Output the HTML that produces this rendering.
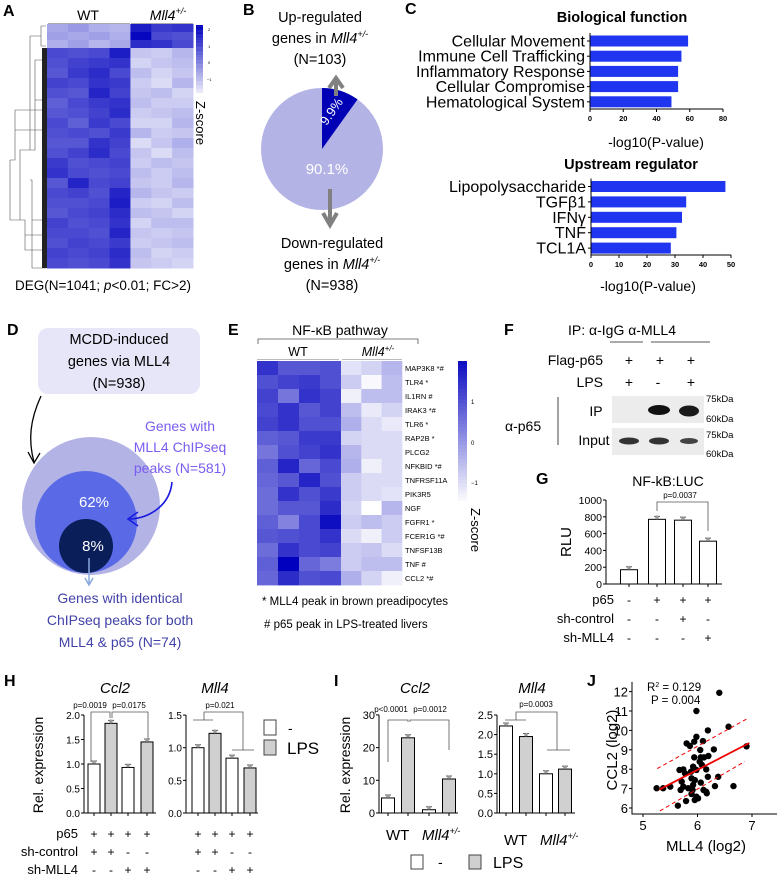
<!DOCTYPE html>
<html><head><meta charset="utf-8"><style>
html,body{margin:0;padding:0;background:#fff;}
svg{display:block;font-family:"Liberation Sans",sans-serif;}
</style></head><body>
<svg id="fig" width="777" height="874" viewBox="0 0 777 874" xmlns="http://www.w3.org/2000/svg">
<g font-weight="bold" font-size="16" fill="#000">
<text x="3" y="16">A</text>
<text x="243" y="15">B</text>
<text x="405" y="14">C</text>
<text x="7" y="335">D</text>
<text x="228" y="335">E</text>
<text x="504" y="335">F</text>
<text x="536" y="484">G</text>
<text x="4" y="686">H</text>
<text x="334" y="686">I</text>
<text x="587" y="686">J</text>
</g>
<g id="pA">
<text x="88" y="20" font-size="14" text-anchor="middle">WT</text>
<text x="168" y="20" font-size="14" text-anchor="middle" font-style="italic">Mll4<tspan font-size="9" dy="-6">+/-</tspan></text>
<line x1="48" y1="23.5" x2="130" y2="23.5" stroke="#aaa"/>
<line x1="131" y1="23.5" x2="193" y2="23.5" stroke="#aaa"/>
<text x="15" y="290" font-size="13.5">DEG(N=1041; <tspan font-style="italic">p</tspan>&lt;0.01; FC&gt;2)</text>
<text transform="translate(196,101) rotate(90)" font-size="13">Z-score</text>
<text x="208" y="31" font-size="4">2</text>
<text x="208" y="48" font-size="4">1</text>
<text x="208" y="64" font-size="4">0</text>
<text x="207" y="81" font-size="4">−1</text>
</g>
<g id="pB">
<text x="320" y="22" font-size="14.5" text-anchor="middle">Up-regulated</text>
<text x="320" y="43" font-size="14.5" text-anchor="middle">genes in <tspan font-style="italic">Mll4</tspan><tspan font-size="9" dy="-6" font-style="italic">+/-</tspan></text>
<text x="320" y="64" font-size="14.5" text-anchor="middle">(N=103)</text>
<text x="332" y="248" font-size="14.5" text-anchor="middle">Down-regulated</text>
<text x="332" y="269" font-size="14.5" text-anchor="middle">genes in <tspan font-style="italic">Mll4</tspan><tspan font-size="9" dy="-6" font-style="italic">+/-</tspan></text>
<text x="332" y="290" font-size="14.5" text-anchor="middle">(N=938)</text>
</g>
<g id="pC">
<text x="622" y="22" font-size="14.5" font-weight="bold" text-anchor="middle">Biological function</text>
<text x="656" y="147" font-size="14" text-anchor="middle">-log10(P-value)</text>
<text x="631" y="169" font-size="14.5" font-weight="bold" text-anchor="middle">Upstream regulator</text>
<text x="648" y="291" font-size="14" text-anchor="middle">-log10(P-value)</text>
</g>
<g id="pD">
<rect x="38" y="328" width="162" height="66" rx="10" fill="#e6e6f8"/>
<text x="119" y="344" font-size="14.5" text-anchor="middle">MCDD-induced</text>
<text x="119" y="366" font-size="14.5" text-anchor="middle">genes via MLL4</text>
<text x="119" y="388" font-size="14.5" text-anchor="middle">(N=938)</text>
<circle cx="91" cy="506" r="69" fill="#b3b3e6"/>
<circle cx="86" cy="522" r="51" fill="#5a6ae6"/>
<circle cx="86" cy="546" r="27" fill="#0a1e5a"/>
<text x="94" y="507" font-size="15" fill="#fff" text-anchor="middle">62%</text>
<text x="93" y="551" font-size="15" fill="#fff" text-anchor="middle">8%</text>
<path d="M41,396 C30,420 28,440 34,462" fill="none" stroke="#000" stroke-width="1.3"/>
<path d="M28,452 L34,463 L40,453" fill="none" stroke="#000" stroke-width="1.3"/>
<text x="180" y="431" font-size="14" fill="#7b5cf0" text-anchor="middle">Genes with</text>
<text x="180" y="452" font-size="14" fill="#7b5cf0" text-anchor="middle">MLL4 ChIPseq</text>
<text x="180" y="473" font-size="14" fill="#7b5cf0" text-anchor="middle">peaks (N=581)</text>
<path d="M172,482 C170,505 150,518 130,519" fill="none" stroke="#1818e0" stroke-width="1.6"/>
<path d="M138,512 L128,519 L138,526" fill="none" stroke="#1818e0" stroke-width="1.6"/>
<line x1="89" y1="558" x2="89" y2="584" stroke="#8aa8e0" stroke-width="1.5"/>
<path d="M85,578 L89,585 L93,578" fill="none" stroke="#8aa8e0" stroke-width="1.5"/>
<text x="120" y="603" font-size="14" fill="#4242a8" text-anchor="middle">Genes with identical</text>
<text x="120" y="625" font-size="14" fill="#4242a8" text-anchor="middle">ChIPseq peaks for both</text>
<text x="120" y="647" font-size="14" fill="#4242a8" text-anchor="middle">MLL4 &amp; p65 (N=74)</text>
</g>
<g id="pE">
<text x="340" y="335" font-size="14" text-anchor="middle">NF-κB pathway</text>
<path d="M258,344 V339 H418 V344" fill="none" stroke="#555" stroke-width="0.8"/>
<text x="298" y="356" font-size="12.5" text-anchor="middle">WT</text>
<text x="378" y="356" font-size="12.5" text-anchor="middle" font-style="italic">Mll4<tspan font-size="8" dy="-5">+/-</tspan></text>
<line x1="257" y1="359.5" x2="339" y2="359.5" stroke="#bbb"/>
<line x1="342" y1="359.5" x2="402" y2="359.5" stroke="#bbb"/>
<text transform="translate(471,508) rotate(90)" font-size="13">Z-score</text>
<text x="471" y="404" font-size="6">1</text>
<text x="471" y="445" font-size="6">0</text>
<text x="471" y="485" font-size="6">−1</text>
<text x="262" y="605" font-size="11.5">* MLL4 peak in brown preadipocytes</text>
<text x="264" y="628" font-size="11.5"># p65 peak in LPS-treated livers</text>
</g>
<g id="pF">
<text x="568" y="335" font-size="14">IP:  α-IgG  α-MLL4</text>
<line x1="610" y1="342" x2="643" y2="342" stroke="#555"/>
<line x1="651" y1="342" x2="710" y2="342" stroke="#555"/>
<text x="603" y="365" font-size="14" text-anchor="end">Flag-p65</text>
<text x="603" y="387" font-size="14" text-anchor="end">LPS</text>
<g font-size="14" text-anchor="middle">
<text x="629" y="365">+</text><text x="660" y="365">+</text><text x="691" y="365">+</text>
<text x="629" y="387">+</text><text x="658" y="387">-</text><text x="691" y="387">+</text>
</g>
<text x="505" y="431" font-size="14">α-p65</text>
<line x1="558" y1="397" x2="558" y2="445" stroke="#444"/>
<text x="596" y="416" font-size="14" text-anchor="middle">IP</text>
<text x="594" y="445" font-size="14" text-anchor="middle">Input</text>
<rect x="612" y="396" width="92" height="27" fill="#ececec"/>
<rect x="612" y="428" width="92" height="27" fill="#ececec"/>
<ellipse cx="659" cy="410" rx="11" ry="5" fill="#111"/>
<ellipse cx="689" cy="411" rx="10" ry="5.5" fill="#1a1a1a"/>
<ellipse cx="629" cy="441" rx="10" ry="3.5" fill="#333"/>
<ellipse cx="659" cy="441" rx="10" ry="3.5" fill="#333"/>
<ellipse cx="689" cy="441" rx="9" ry="3" fill="#444"/>
<g font-size="9.5">
<text x="706" y="402">75kDa</text><text x="706" y="422">60kDa</text><text x="706" y="438">75kDa</text><text x="706" y="457">60kDa</text>
</g>
</g>
<g id="pG">
<text x="668" y="486" font-size="14" text-anchor="middle">NF-kB:LUC</text>
<text transform="translate(571,542) rotate(-90)" font-size="15" text-anchor="middle">RLU</text>
<text x="680" y="498" font-size="8" text-anchor="middle">p=0.0037</text>
<path d="M657,511 V502 H708 V531" fill="none" stroke="#555" stroke-width="0.8"/>
</g>
<g id="pH">
<text x="115" y="693" font-size="15" font-style="italic" text-anchor="middle">Ccl2</text>
<text x="215" y="693" font-size="15" font-style="italic" text-anchor="middle">Mll4</text>
<text transform="translate(43,765) rotate(-90)" font-size="14" text-anchor="middle">Rel. expression</text>
<rect x="264" y="720" width="12" height="15" fill="#fff" stroke="#444"/>
<text x="288" y="733" font-size="14">-</text>
<rect x="264" y="740" width="12" height="15" fill="#d0d0d0" stroke="#444"/>
<text x="287" y="754" font-size="17">LPS</text>
<text x="90" y="708" font-size="8" text-anchor="middle">p=0.0019</text>
<text x="129" y="708" font-size="8" text-anchor="middle">p=0.0175</text>
<path d="M91,762 V712 H110 V718" fill="none" stroke="#555" stroke-width="0.8"/>
<path d="M112,718 V712 H148 V740" fill="none" stroke="#555" stroke-width="0.8"/>
<text x="220" y="708" font-size="8" text-anchor="middle">p=0.021</text>
<path d="M193,720 H213 M204,720 V712 H243 V750 M232,750 H254" fill="none" stroke="#555" stroke-width="0.8"/>
</g>
<g id="pI">
<text x="415" y="693" font-size="15" font-style="italic" text-anchor="middle">Ccl2</text>
<text x="532" y="693" font-size="15" font-style="italic" text-anchor="middle">Mll4</text>
<text transform="translate(350,765) rotate(-90)" font-size="14" text-anchor="middle">Rel. expression</text>
<text x="391" y="712" font-size="8" text-anchor="middle">p&lt;0.0001</text>
<text x="430" y="712" font-size="8" text-anchor="middle">p=0.0012</text>
<path d="M388,762 V720 H406 M399,720 H408 V722 M410,722 V720 H449 V750" fill="none" stroke="#555" stroke-width="0.8"/>
<text x="536" y="707" font-size="8" text-anchor="middle">p=0.0003</text>
<path d="M505,720 H526 M516,720 V712 H557 V750 M547,750 H570" fill="none" stroke="#555" stroke-width="0.8"/>
<text x="386" y="840" font-size="15">WT</text>
<text x="422" y="840" font-size="15" font-style="italic">Mll4<tspan font-size="9" dy="-6">+/-</tspan></text>
<text x="504" y="845" font-size="15">WT</text>
<text x="540" y="845" font-size="15" font-style="italic">Mll4<tspan font-size="9" dy="-6">+/-</tspan></text>
<rect x="411" y="855" width="12" height="14" fill="#fff" stroke="#444"/>
<text x="438" y="867" font-size="14">-</text>
<rect x="469" y="855" width="12" height="14" fill="#d0d0d0" stroke="#444"/>
<text x="493" y="868" font-size="16">LPS</text>
</g>
<g id="pJ">
<text x="647" y="691" font-size="11.5">R<tspan font-size="7" dy="-4">2</tspan><tspan dy="4"> = 0.129</tspan></text>
<text x="651" y="704" font-size="11.5">P = 0.004</text>
<text transform="translate(617,750) rotate(-90)" font-size="15" text-anchor="middle">CCL2 (log2)</text>
<text x="706" y="851" font-size="15" text-anchor="middle">MLL4 (log2)</text>
</g>
</svg>
<script>
const NS='http://www.w3.org/2000/svg';
const svg=document.getElementById('fig');
function mk(tag,a,p){const e=document.createElementNS(NS,tag);for(const k in a)e.setAttribute(k,a[k]);(p||svg).appendChild(e);return e;}
function zc(z){let t=(z+1.5)/3.5;t=Math.max(0,Math.min(1,t));const r=Math.round(255*(1-t)),b=Math.round(255-65*t);return 'rgb('+r+','+r+','+b+')';}

const aRowsUp=[[-0.3,-0.1,-0.4,-0.5,1.6,1.2,1.3],[-0.2,-0.3,-0.2,-0.4,1.9,1.0,0.9],[-0.4,-0.2,-0.5,-0.3,1.4,1.3,1.0]];
const aRowsDown=[[1.0,0.9,1.0,1.6,-0.7,-0.8,-0.5],[0.9,1.1,1.2,1.3,-0.9,-0.7,-0.6],[0.8,1.2,1.4,1.0,-0.6,-0.9,-0.7],[1.1,1.0,1.3,1.2,-0.8,-1.0,-0.5],[0.9,0.8,1.5,1.1,-0.7,-0.6,-0.9],[0.7,1.0,1.2,1.3,-0.6,-0.8,-0.8],[0.8,0.9,1.1,1.4,-0.8,-0.7,-0.6],[1.0,0.7,1.2,1.0,-0.9,-0.9,-0.5],[0.9,1.0,0.9,1.2,-0.5,-0.8,-0.7],[0.8,0.8,1.3,1.1,-1.0,-0.7,-0.4],[0.9,1.1,1.4,1.0,-0.7,-1.0,-0.6],[1.2,0.9,1.0,1.1,-0.8,-0.6,-0.7],[1.3,1.0,0.9,1.0,-0.6,-0.8,-0.6],[0.8,1.5,1.0,1.1,-0.7,-0.8,-0.5],[1.0,1.1,0.9,1.5,-0.5,-0.7,-0.8],[0.9,0.9,1.0,1.6,-0.8,-0.9,-0.6],[0.8,1.0,1.1,1.4,-0.6,-0.7,-0.9],[1.1,0.9,1.0,1.3,-0.9,-0.6,-0.6],[1.0,1.0,0.9,1.5,-0.7,-0.8,-0.7],[0.9,1.1,1.0,1.2,-0.8,-0.7,-0.6],[1.1,1.0,1.1,1.4,-0.6,-0.9,-0.8],[1.0,0.9,1.0,1.3,-0.7,-0.8,-0.9]];
const aCols=7;
(function(){const x0=47,w=146/aCols;let y=24;
 aRowsUp.forEach(r=>{r.forEach((v,i)=>{const c=mk('rect',{x:x0+i*w,y:y,width:w+0.5,height:8.5,fill:zc(v)});
 
 });y+=8;});
 aRowsDown.forEach(r=>{r.forEach((v,i)=>{const c=mk('rect',{x:x0+i*w,y:y,width:w+0.5,height:10.5,fill:zc(v)});
 
 });y+=10;});
 for(let k=0;k<40;k++){const z=2-3.3*k/40;const c=mk('rect',{x:196,y:25+k*1.7,width:7,height:1.8,fill:zc(z)});
 
 }
 const d=mk('path',{d:'M46,26 H41 V46 H46 M41,36 H30 V150 H20 V220 H10 V160 M30,150 H35 V60 H46 M35,100 H46 M30,180 H32 V268 H46 M32,220 H46 M20,220 H25 V250 H46 M10,160 H15 V110 H46 M15,130 H46 M25,235 H46',fill:'none',stroke:'#555','stroke-width':0.6});
 
 
 const db=mk('rect',{x:42,y:48,width:5,height:220,fill:'#222'});
 
 
})();

const pieLabels=['Up','Down'];
const pieValues=[9.9,90.1];
(function(){const cx=322,cy=149,r=61;
 const c1=mk('circle',{cx:cx,cy:cy,r:r,fill:'#b3b3e6'});
 
 
 const a=pieValues[0]/100*2*Math.PI;
 const x2=cx+r*Math.sin(a),y2=cy-r*Math.cos(a);
 const s=mk('path',{d:`M${cx},${cy} L${cx},${cy-r} A${r},${r} 0 0 1 ${x2},${y2} Z`,fill:'#0000b4'});
 
 
 const t1=mk('text',{x:0,y:0,'font-size':13,fill:'#fff',transform:`translate(${cx+13},${cy-35}) rotate(-55)`,'text-anchor':'middle'});
 t1.textContent=pieValues[0]+'%';
 
 
 const t2=mk('text',{x:cx+5,y:cy+25,'font-size':15,fill:'#fff','text-anchor':'middle'});
 t2.textContent=pieValues[1]+'%';
 
 
 const ar1=mk('path',{d:'M336,96 V80 M329,88 L336,78 L343,88',fill:'none',stroke:'#808080','stroke-width':4});
 
 
 const ar2=mk('path',{d:'M330,189 V223 M323,213 L330,225 L337,213',fill:'none',stroke:'#808080','stroke-width':4});
 
 
})();

const bioCats=['Cellular Movement','Immune Cell Trafficking','Inflammatory Response','Cellular Compromise','Hematological System'];
const bioVals=[59,55,53,53,49];
const bioTicks=[0,20,40,60,80];
const upCats=['Lipopolysaccharide','TGFβ1','IFNγ','TNF','TCL1A'];
const upVals=[48,34,32.5,30.5,28.5];
const upTicks=[0,10,20,30,40,50];
function hbar(cats,vals,ticks,x0,pxPer,yTop,step,axisY,name){
 const xs=v=>x0+v*pxPer;
 cats.forEach((c,i)=>{const yc=yTop+i*step;
  const b=mk('rect',{x:xs(0),y:yc-5.5,width:xs(vals[i])-xs(0),height:11,fill:'#1f35ef'});
  
  
  const t=mk('text',{x:x0-5,y:yc+5.5,'font-size':16,'text-anchor':'end'});t.textContent=c;
  
  
  const tk=mk('line',{x1:x0-3,y1:yc,x2:x0,y2:yc,stroke:'#000'});
  
  });
 const ax=mk('path',{d:`M${x0},${yTop-8} V${axisY} H${xs(ticks[ticks.length-1])}`,fill:'none',stroke:'#000','stroke-width':1});
 
 
 ticks.forEach(t=>{const l=mk('line',{x1:xs(t),y1:axisY,x2:xs(t),y2:axisY+3,stroke:'#000'});
  
  
  const tx=mk('text',{x:xs(t),y:axisY+12,'font-size':7.5,'font-weight':'bold','text-anchor':'middle'});tx.textContent=t;
  
  });
}
hbar(bioCats,bioVals,bioTicks,590,133/80,41,15.2,109,'bio-function');
hbar(upCats,upVals,upTicks,591,140/50,186.5,15.4,255,'upstream');

const eGenes=['MAP3K8 *#','TLR4  *','IL1RN  #','IRAK3 *#','TLR6  *','RAP2B  *','PLCG2','NFKBID *#','TNFRSF11A','PIK3R5','NGF','FGFR1  *','FCER1G *#','TNFSF13B','TNF  #','CCL2 *#'];
const eZ=[[1.3,0.8,0.8,0.9,-1.1,-0.9,-0.5],[0.9,1.1,1.2,0.9,-0.8,-1.4,-0.6],[1.1,0.4,1.3,1.1,-1.3,-0.6,-0.6],[1.0,1.3,0.8,1.1,-0.6,-1.2,-0.9],[1.1,1.3,0.9,0.9,-0.4,-1.0,-1.2],[0.7,0.8,1.2,1.2,-0.9,-1.0,-1.0],[0.4,0.9,1.1,1.3,-0.5,-1.0,-1.0],[0.7,1.5,0.6,1.0,-0.4,-1.3,-1.0],[0.6,0.8,1.5,0.9,-0.8,-1.0,-1.0],[0.5,1.3,0.9,1.2,-0.8,-1.0,-1.1],[0.5,0.8,0.8,1.4,-0.9,-1.5,-0.5],[0.7,0.2,1.0,1.8,-0.8,-0.6,-0.8],[0.8,0.9,1.0,1.3,-1.0,-1.3,-0.8],[0.5,1.3,1.0,1.1,-0.8,-0.7,-1.0],[0.7,2.0,0.6,0.3,-0.8,-0.6,-0.6],[0.6,1.4,0.9,1.0,-0.4,-0.9,-1.3]];
(function(){const x0=257,wW=21,wM=20.3,y0=361,h=14;
 eZ.forEach((r,j)=>{r.forEach((v,i)=>{const x=i<4?x0+i*wW:x0+4*wW+(i-4)*wM;
  const c=mk('rect',{x:x,y:y0+j*h,width:(i<4?wW:wM)+0.4,height:h+0.4,fill:zc(v)});
  
  });
  const t=mk('text',{x:405,y:y0+j*h+10,'font-size':7.5});t.textContent=eGenes[j];
  
  });
 for(let k=0;k<40;k++){const z=1.8-3.3*k/40;const c=mk('rect',{x:458,y:361+k*3.5,width:9,height:3.6,fill:zc(z)});
  
  }
})();

function vbars(cx,vals,fills,yS,w,name){
 vals.forEach((v,i)=>{const b=mk('rect',{x:cx[i]-w/2,y:yS(v),width:w,height:yS(0)-yS(v),fill:fills[i],stroke:'#000','stroke-width':1});
  
  
  const e=mk('path',{d:`M${cx[i]-3},${yS(v)-3} H${cx[i]+3} M${cx[i]},${yS(v)-3} V${yS(v)}`,stroke:'#555',fill:'none'});
  
  
  const d=mk('circle',{cx:cx[i],cy:yS(v)-2,r:1.8,fill:'#999'});
  
  });
}
function yaxis(x,yS,ticks,y1,name,fs,fmt){
 const a=mk('line',{x1:x,y1:yS(ticks[ticks.length-1]),x2:x,y2:yS(ticks[0]),stroke:'#000'});
 
 
 ticks.forEach(t=>{const l=mk('line',{x1:x-3,y1:yS(t),x2:x,y2:yS(t),stroke:'#000'});
  
  
  const tx=mk('text',{x:x-4,y:yS(t)+4,'font-size':fs,'text-anchor':'end'});tx.textContent=fmt?t.toFixed(1):t;
  
  });
}
function xaxis(x1,x2,y,cx,name){
 const a=mk('line',{x1:x1,y1:y,x2:x2,y2:y,stroke:'#000'});
 
 
 cx.forEach(c=>{const l=mk('line',{x1:c,y1:y,x2:c,y2:y+3,stroke:'#000'});
  
  });
}
function signTable(rows,labels,cols,ys,lx,name){
 rows.forEach((r,j)=>{if(labels){const t=mk('text',{x:lx,y:ys[j],'font-size':13,'text-anchor':'end'});t.textContent=labels[j];
  
  }
  r.forEach((s,i)=>{const t=mk('text',{x:cols[i],y:ys[j],'font-size':12,'text-anchor':'middle'});t.textContent=s;
  
  });});
}

const gVals=[170,770,760,510];
const gTicks=[0,200,400,600,800,1000];
const gRows=[['-','+','+','+'],['-','-','+','-'],['-','-','-','+']];
const gLabels=['p65','sh-control','sh-MLL4'];
(function(){const yS=v=>584-v*0.084;const cx=[629,657,683,708];
 yaxis(606,yS,gTicks,0,'g',10.5,false);xaxis(606,722,584,cx,'g');
 vbars(cx,gVals,['#fff','#fff','#fff','#fff'],yS,17,'g');
 signTable(gRows,gLabels,cx,[604,623,642],614,'g');})();

const hCcl2=[1.0,1.83,0.93,1.45];
const hMll4=[1.0,1.22,0.84,0.69];
const hTicks1=[0,0.5,1,1.5,2];
const hTicks2=[0,0.5,1,1.5];
const hRows=[['+','+','+','+','+','+','+','+'],['+','+','-','-','+','+','-','-'],['-','-','+','+','-','-','+','+']];
const hLabels=['p65','sh-control','sh-MLL4'];
const fillsAlt=['#fff','#d0d0d0','#fff','#d0d0d0'];
(function(){const y1=v=>813-v*49,y2=v=>813-v*65.3;
 const c1=[94,111,128,147],c2=[198,215,232,250];
 yaxis(84,y1,hTicks1,0,'h-ccl2',10,true);xaxis(84,156,813,c1,'h-ccl2');
 vbars(c1,hCcl2,fillsAlt,y1,12,'h-ccl2');
 yaxis(186,y2,hTicks2,0,'h-mll4',10,true);xaxis(186,258,813,c2,'h-mll4');
 vbars(c2,hMll4,fillsAlt,y2,12,'h-mll4');
 signTable(hRows,hLabels,c1.concat(c2),[838,856,874],78,'h');})();

const iCcl2=[4.6,23,1.0,10.4];
const iMll4=[2.22,1.95,1.0,1.12];
const iTicks1=[0,10,20,30];
const iTicks2=[0,0.5,1,1.5,2,2.5];
(function(){const y1=v=>813-v*3.27,y2=v=>813-v*39.2;
 const c1=[388,408,429,449],c2=[506,526,546,565];
 yaxis(379,y1,iTicks1,0,'i-ccl2',11,false);xaxis(379,458,813,c1,'i-ccl2');
 vbars(c1,iCcl2,fillsAlt,y1,13,'i-ccl2');
 yaxis(497,y2,iTicks2,0,'i-mll4',11,true);xaxis(497,575,813,c2,'i-mll4');
 vbars(c2,iMll4,fillsAlt,y2,13,'i-mll4');})();

const jX=[6.40,5.98,6.57,6.19,6.90,5.98,5.80,5.86,5.94,6.10,6.05,6.30,5.94,6.06,6.20,6.12,6.04,5.92,5.98,5.88,6.16,5.67,5.74,5.77,6.08,6.19,6.38,5.89,5.95,5.71,6.06,5.74,5.92,5.91,6.32,6.66,5.25,5.37,5.50,5.69,6.11,6.17,5.89,5.98,5.95,6.01,5.79,5.64,6.16,5.83];
const jY=[11.94,11.0,10.19,10.0,9.18,9.67,9.33,9.20,9.42,9.45,8.99,9.02,8.61,8.61,8.68,8.61,8.39,8.13,7.96,7.87,7.99,7.96,7.99,7.79,8.22,7.61,7.61,7.53,7.44,7.36,7.31,7.10,7.19,6.93,7.13,7.13,7.02,7.02,7.10,6.93,6.93,6.76,6.72,6.58,6.41,6.50,6.36,6.12,6.84,7.02];
const jXTicks=[5,6,7];
const jYTicks=[6,7,8,9,10,11,12];
const jFit=[[5.3,6.95],[6.95,9.35]];
const jUpper=[[5.26,8.03],[6.91,10.6]];
const jLower=[[5.31,5.85],[6.87,8.4]];
(function(){const xs=v=>643+(v-5)*54.5,ys=v=>808-(v-6)*19.4;
 const ax=mk('path',{d:`M632,${ys(12.5)} V814 H777`,fill:'none',stroke:'#000'});
 
 
 jXTicks.forEach(t=>{const l=mk('line',{x1:xs(t),y1:814,x2:xs(t),y2:817,stroke:'#000'});
  
  
  const tx=mk('text',{x:xs(t),y:830,'font-size':13,'text-anchor':'middle'});tx.textContent=t;
  
  });
 jYTicks.forEach(t=>{const l=mk('line',{x1:629,y1:ys(t),x2:632,y2:ys(t),stroke:'#000'});
  
  
  const tx=mk('text',{x:628,y:ys(t)+5,'font-size':13,'text-anchor':'end'});tx.textContent=t;
  
  });
 jX.forEach((x,i)=>{const c=mk('circle',{cx:xs(x),cy:ys(jY[i]),r:3.2,fill:'#000'});
  
  });
 const f=mk('line',{x1:xs(jFit[0][0]),y1:ys(jFit[0][1]),x2:xs(jFit[1][0]),y2:ys(jFit[1][1]),stroke:'#e00','stroke-width':1.8});
 
 
 const u=mk('line',{x1:xs(jUpper[0][0]),y1:ys(jUpper[0][1]),x2:xs(jUpper[1][0]),y2:ys(jUpper[1][1]),stroke:'#e00','stroke-dasharray':'4,3'});
 
 
 const lo=mk('line',{x1:xs(jLower[0][0]),y1:ys(jLower[0][1]),x2:xs(jLower[1][0]),y2:ys(jLower[1][1]),stroke:'#e00','stroke-dasharray':'4,3'});
 
 })();
</script>
</body></html>
